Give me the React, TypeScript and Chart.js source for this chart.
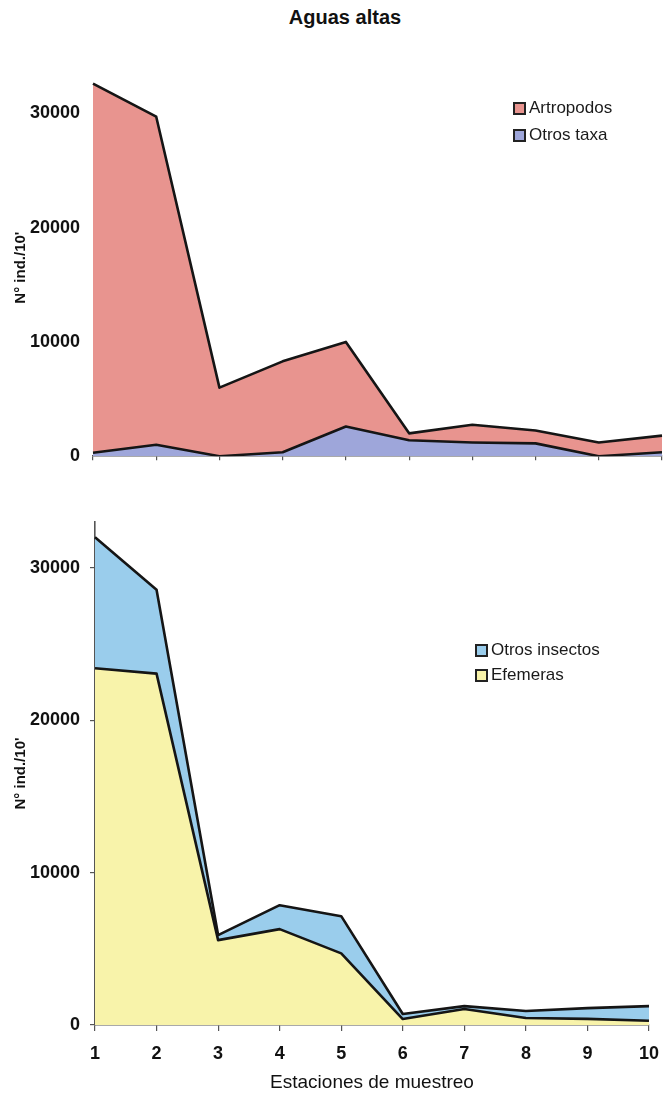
import React, { useEffect, useRef } from "react";
import { Chart, registerables } from "chart.js";

Chart.register(...registerables);

// Sampling stations along the river
const stations = ["1", "2", "3", "4", "5", "6", "7", "8", "9", "10"];

// Upper panel: stacked densities (ind./10')
const otrosTaxa = [300, 1000, 0, 350, 2600, 1400, 1200, 1120, 0, 350];
const artropodos = [32300, 28700, 6000, 7950, 7400, 600, 1550, 1130, 1200, 1450];

// Lower panel: stacked densities (ind./10')
const efemeras = [23400, 23050, 5570, 6290, 4700, 390, 1050, 460, 400, 280];
const otrosInsectos = [8600, 5500, 330, 1570, 2440, 330, 190, 460, 710, 960];

const yTickValues = [0, 10000, 20000, 30000];
const yMax = 33000;

const FONT = "'Liberation Sans', Arial, Helvetica, sans-serif";

const COLORS = {
  artropodos: "#e8948f",
  otrosTaxa: "#9ea6da",
  otrosInsectos: "#9acdec",
  efemeras: "#f8f3aa",
  line: "#151515",
  axis: "#555555",
};

type Series = { label: string; data: number[]; color: string };

type PanelOpts = {
  canvasHeight: number;
  areaTop: number;
  areaBottom: number;
  areaLeft: number;
  rightPad: number;
  series: Series[]; // bottom layer first
  showXLabels: boolean;
  yAxisLine: boolean;
};

function buildConfig(o: PanelOpts): any {
  const datasets = o.series.map((s, i) => ({
    label: s.label,
    data: s.data,
    backgroundColor: s.color,
    borderColor: COLORS.line,
    borderWidth: 2.6,
    pointRadius: 0,
    pointHoverRadius: 0,
    tension: 0,
    fill: i === 0 ? "origin" : "-1",
    borderJoinStyle: "round",
  }));

  return {
    type: "line",
    data: { labels: stations, datasets },
    options: {
      responsive: false,
      animation: false,
      events: [],
      layout: {
        padding: { top: o.areaTop, right: o.rightPad, left: 0, bottom: 0 },
      },
      plugins: {
        legend: { display: false },
        tooltip: { enabled: false },
        title: { display: false },
      },
      scales: {
        x: {
          type: "category",
          offset: false,
          grid: {
            display: true,
            drawOnChartArea: false,
            drawTicks: true,
            tickLength: o.showXLabels ? 6 : 4,
            color: COLORS.axis,
            lineWidth: 1.2,
          },
          border: { display: true, color: COLORS.axis, width: 1.6 },
          ticks: {
            display: o.showXLabels,
            color: "#111",
            padding: 12,
            maxRotation: 0,
            font: { family: FONT, size: 18, weight: "bold" },
          },
          title: {
            display: o.showXLabels,
            text: "Estaciones de muestreo",
            color: "#111",
            font: { family: FONT, size: 19, weight: "normal" },
            padding: { top: 0, bottom: 7 },
          },
          afterFit: (scale: any) => {
            scale.height = o.canvasHeight - o.areaBottom;
            // keep the plot edges fixed; the end labels fit in the margins
            scale.paddingLeft = 0;
            scale.paddingRight = 0;
          },
        },
        y: {
          stacked: true,
          min: 0,
          max: yMax,
          afterBuildTicks: (scale: any) => {
            scale.ticks = yTickValues.map((v) => ({ value: v }));
          },
          grid: {
            display: o.yAxisLine,
            drawOnChartArea: false,
            drawTicks: o.yAxisLine,
            tickLength: 5,
            color: COLORS.axis,
            lineWidth: 1.2,
          },
          border: { display: o.yAxisLine, color: COLORS.axis, width: 1.6 },
          ticks: {
            color: "#111",
            padding: o.yAxisLine ? 10 : 13,
            font: { family: FONT, size: 18, weight: "bold" },
            callback: (v: any) => String(v),
          },
          title: {
            display: true,
            text: "N° ind./10'",
            color: "#111",
            font: { family: FONT, size: 15, weight: "bold" },
            padding: { top: 12, bottom: 0 },
          },
          afterFit: (scale: any) => {
            scale.width = o.areaLeft;
          },
        },
      },
    },
  };
}

function Panel(props: { top: number; height: number; opts: PanelOpts }) {
  const ref = useRef<HTMLCanvasElement | null>(null);
  useEffect(() => {
    if (!ref.current) return;
    const chart = new Chart(ref.current, buildConfig(props.opts));
    return () => chart.destroy();
  }, []);
  return (
    <canvas
      ref={ref}
      width={663}
      height={props.height}
      style={{ position: "absolute", left: 0, top: props.top, width: 663, height: props.height }}
    />
  );
}

function Legend(props: { left: number; rows: { label: string; color: string; top: number }[] }) {
  return (
    <>
      {props.rows.map((r) => (
        <div
          key={r.label}
          style={{
            position: "absolute",
            left: props.left,
            top: r.top - 11,
            height: 22,
            display: "flex",
            alignItems: "center",
            fontFamily: FONT,
            fontSize: 17,
            color: "#1a1a1a",
            whiteSpace: "nowrap",
          }}
        >
          <span
            style={{
              display: "inline-block",
              width: 9,
              height: 9,
              background: r.color,
              border: "2px solid #222",
              marginRight: 3,
            }}
          />
          <span>{r.label}</span>
        </div>
      ))}
    </>
  );
}

export default function App() {
  const topPanel: PanelOpts = {
    canvasHeight: 480,
    areaTop: 79,
    areaBottom: 461,
    areaLeft: 93,
    rightPad: 1,
    series: [
      { label: "Otros taxa", data: otrosTaxa, color: COLORS.otrosTaxa },
      { label: "Artropodos", data: artropodos, color: COLORS.artropodos },
    ],
    showXLabels: false,
    yAxisLine: false,
  };

  const bottomPanel: PanelOpts = {
    canvasHeight: 611,
    areaTop: 32,
    areaBottom: 535,
    areaLeft: 95,
    rightPad: 14,
    series: [
      { label: "Efemeras", data: efemeras, color: COLORS.efemeras },
      { label: "Otros insectos", data: otrosInsectos, color: COLORS.otrosInsectos },
    ],
    showXLabels: true,
    yAxisLine: true,
  };

  return (
    <div
      style={{
        position: "absolute",
        left: 0,
        top: 0,
        width: 663,
        height: 1101,
        background: "#fff",
        overflow: "hidden",
      }}
    >
      <div
        style={{
          position: "absolute",
          left: 345,
          top: 5,
          transform: "translateX(-50%)",
          fontFamily: FONT,
          fontWeight: "bold",
          fontSize: 20,
          lineHeight: "24px",
          color: "#111",
          whiteSpace: "nowrap",
        }}
      >
        Aguas altas
      </div>

      <Panel top={0} height={480} opts={topPanel} />
      <Panel top={490} height={611} opts={bottomPanel} />

      <Legend
        left={513}
        rows={[
          { label: "Artropodos", color: COLORS.artropodos, top: 108 },
          { label: "Otros taxa", color: COLORS.otrosTaxa, top: 135 },
        ]}
      />
      <Legend
        left={475}
        rows={[
          { label: "Otros insectos", color: COLORS.otrosInsectos, top: 650 },
          { label: "Efemeras", color: COLORS.efemeras, top: 675 },
        ]}
      />
    </div>
  );
}
